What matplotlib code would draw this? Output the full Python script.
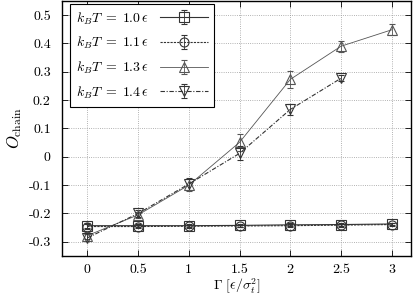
import numpy as np
import matplotlib.pyplot as plt

plt.rcParams['font.family'] = 'serif'
plt.rcParams['font.serif'] = ['cmr10', 'DejaVu Serif']
plt.rcParams['mathtext.fontset'] = 'cm'
plt.rcParams['font.size'] = 10
plt.rcParams['axes.unicode_minus'] = False

gamma = [0, 0.5, 1, 1.5, 2, 2.5, 3]
gamma_14 = [0, 0.5, 1, 1.5, 2, 2.5]

o_10 = [-0.243, -0.243, -0.243, -0.242, -0.240, -0.239, -0.237]
e_10 = [0.008, 0.005, 0.005, 0.005, 0.005, 0.005, 0.005]
o_11 = [-0.246, -0.246, -0.245, -0.244, -0.243, -0.241, -0.239]
e_11 = [0.008, 0.005, 0.005, 0.005, 0.005, 0.005, 0.005]
o_13 = [-0.278, -0.205, -0.100, 0.051, 0.273, 0.390, 0.448]
e_13 = [0.012, 0.012, 0.02, 0.03, 0.03, 0.02, 0.02]
o_14 = [-0.286, -0.200, -0.096, 0.012, 0.167, 0.277]
e_14 = [0.012, 0.012, 0.02, 0.025, 0.02, 0.01]

labels = [r'$k_BT\;=\;1.0\,\epsilon$', r'$k_BT\;=\;1.1\,\epsilon$',
          r'$k_BT\;=\;1.3\,\epsilon$', r'$k_BT\;=\;1.4\,\epsilon$']

fig = plt.figure(figsize=(4.16, 2.97), dpi=100)
ax = fig.add_axes([0.149, 0.138, 0.839, 0.859])

common = dict(color='#333333', lw=0.8, ms=6.5, mfc='none', mew=0.8,
              capsize=2, elinewidth=0.6, capthick=0.6)
ax.errorbar(gamma, o_10, yerr=e_10, marker='s', ls='-', label=labels[0], **common)
ax.errorbar(gamma, o_11, yerr=e_11, marker='o', ls=(0, (2, 1)), label=labels[1], **common)
ax.errorbar(gamma, o_13, yerr=e_13, marker='^', ls='-', label=labels[2],
            **{**common, 'color': '#555555', 'lw': 0.6})
ax.errorbar(gamma_14, o_14, yerr=e_14, marker='v', ls=(0, (4, 1.5, 1, 1.5)),
            label=labels[3], **common)

ax.set_xlim(-0.25, 3.19)
ax.set_ylim(-0.35, 0.55)
ax.set_xticks(gamma)
ax.set_xticklabels(['0', '0.5', '1', '1.5', '2', '2.5', '3'], fontsize=10)
yt = [-0.3, -0.2, -0.1, 0, 0.1, 0.2, 0.3, 0.4, 0.5]
ax.set_yticks(yt)
ax.set_yticklabels(['-0.3', '-0.2', '-0.1', '0', '0.1', '0.2', '0.3', '0.4', '0.5'],
                   fontsize=10)
ax.tick_params(direction='in', top=True, right=True, length=4, width=0.6, pad=8)
ax.tick_params(axis='x', pad=6)
ax.grid(True, ls=':', color='#999999', lw=0.6)
for s in ax.spines.values():
    s.set_linewidth(1.0)

ax.set_xlabel(r'$\Gamma\ [\epsilon/\sigma_t^2]$', fontsize=10)
ax.xaxis.set_label_coords(0.5, -0.082)
ax.set_ylabel(r'$O_{\rm chain}$', fontsize=12)
ax.yaxis.set_label_coords(-0.109, 0.5)

leg = ax.legend(loc='upper left', markerfirst=False, fancybox=False,
                edgecolor='black', framealpha=1, handlelength=3.4,
                borderpad=0.45, labelspacing=0.6, fontsize=10,
                bbox_to_anchor=(0.023, 0.988), borderaxespad=0)
leg.get_frame().set_linewidth(0.8)

fig.savefig('out.png', dpi=100)
